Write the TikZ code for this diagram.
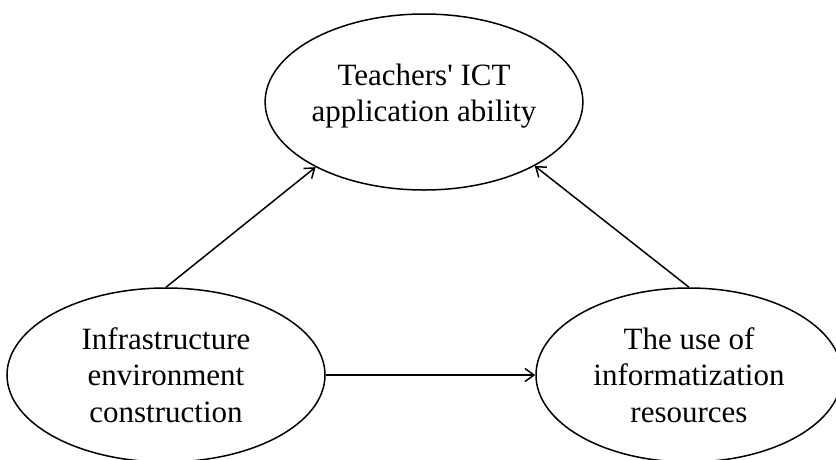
\documentclass[tikz,border=0pt]{standalone}
\usepackage{fontspec}
\setmainfont{Liberation Serif}
\usetikzlibrary{shapes.geometric,arrows.meta}
\newcommand{\strq}{\XeTeXglyph\XeTeXglyphindex "quotesingle"\relax}
\tikzset{
  concept/.style={ellipse, draw=black, line width=1.5pt, inner sep=0pt,
    align=center, font=\fontsize{31}{36.5}\selectfont, text=black},
  link/.style={draw=black, line width=1.5pt,
    -{Straight Barb[length=9pt,width=13pt,line width=1.5pt]}}
}
\begin{document}
\begin{tikzpicture}[x=1pt,y=-1pt]
\useasboundingbox (0,0) rectangle (836,459);
\node[concept, minimum width=314pt, minimum height=176pt] (top) at (424,102)
  {Teachers\strq{} ICT\\application ability\rule[-19pt]{0pt}{1pt}};
\node[concept, minimum width=318pt, minimum height=174pt] (bl) at (166,375)
  {Infrastructure\\environment\\construction};
\node[concept, minimum width=306pt, minimum height=174pt] (br) at (689,375)
  {The use of\\informatization\\resources};
\draw[link] (bl.north) -- (top.211);
\draw[link] (br.north) -- (top.330);
\draw[link] (bl.east) -- (br.west);
\end{tikzpicture}
\end{document}
